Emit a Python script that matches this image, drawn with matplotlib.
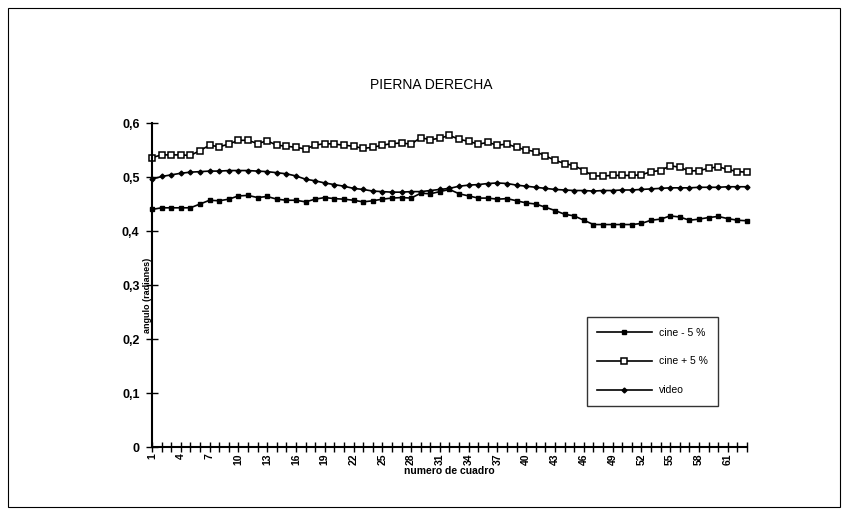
import matplotlib
matplotlib.use('Agg')
import matplotlib.pyplot as plt
from matplotlib.patches import Rectangle
import numpy as np

plt.rcParams['font.family'] = ['Liberation Sans', 'DejaVu Sans']

# angulo por cuadro, pierna derecha
cuadros = np.arange(1, 64)

cine_menos = [0.440, 0.443, 0.443, 0.443, 0.443, 0.450, 0.457, 0.456, 0.459, 0.465,
              0.466, 0.462, 0.464, 0.459, 0.457, 0.457, 0.454, 0.459, 0.462, 0.460,
              0.459, 0.457, 0.454, 0.456, 0.459, 0.461, 0.462, 0.461, 0.470, 0.469,
              0.473, 0.477, 0.469, 0.465, 0.461, 0.461, 0.459, 0.460, 0.456, 0.452,
              0.450, 0.444, 0.438, 0.431, 0.428, 0.420, 0.412, 0.412, 0.412, 0.412,
              0.412, 0.414, 0.420, 0.422, 0.428, 0.426, 0.420, 0.422, 0.425, 0.427,
              0.423, 0.420, 0.419]

cine_mas = [0.536, 0.541, 0.541, 0.541, 0.540, 0.549, 0.559, 0.556, 0.561, 0.568,
            0.568, 0.562, 0.567, 0.559, 0.557, 0.555, 0.552, 0.559, 0.562, 0.561,
            0.559, 0.557, 0.553, 0.555, 0.559, 0.562, 0.563, 0.561, 0.573, 0.569,
            0.572, 0.577, 0.570, 0.566, 0.561, 0.564, 0.559, 0.561, 0.555, 0.550,
            0.547, 0.539, 0.531, 0.525, 0.521, 0.512, 0.502, 0.502, 0.503, 0.503,
            0.503, 0.504, 0.510, 0.512, 0.521, 0.518, 0.511, 0.512, 0.516, 0.519,
            0.514, 0.510, 0.509]

video = [0.496, 0.501, 0.504, 0.507, 0.509, 0.510, 0.511, 0.511, 0.512, 0.512,
         0.512, 0.511, 0.510, 0.508, 0.506, 0.502, 0.496, 0.493, 0.489, 0.486,
         0.483, 0.479, 0.477, 0.474, 0.473, 0.472, 0.472, 0.473, 0.473, 0.475,
         0.477, 0.479, 0.483, 0.485, 0.486, 0.488, 0.489, 0.488, 0.485, 0.483,
         0.481, 0.479, 0.477, 0.476, 0.475, 0.475, 0.474, 0.475, 0.475, 0.476,
         0.476, 0.477, 0.478, 0.479, 0.480, 0.480, 0.480, 0.481, 0.481, 0.481,
         0.482, 0.482, 0.482]

y_ticks = [0, 0.1, 0.2, 0.3, 0.4, 0.5, 0.6]
y_labels = ['0', '0,1', '0,2', '0,3', '0,4', '0,5', '0,6']

fig = plt.figure(figsize=(8.53, 5.15), dpi=100)
ax = fig.add_axes([0.1782, 0.1320, 0.6975, 0.6291])

ax.plot(cuadros, cine_menos, color='black', lw=1.2, marker='s', ms=3.5,
        mfc='black', mec='black', label='cine - 5 %', clip_on=False)
ax.plot(cuadros, cine_mas, color='black', lw=1.2, marker='s', ms=5,
        mfc='white', mec='black', mew=1.1, label='cine + 5 %', clip_on=False)
ax.plot(cuadros, video, color='black', lw=1.2, marker='D', ms=2.5,
        mfc='black', mec='black', label='video', clip_on=False)

ax.set_xlim(1, 63)
ax.set_ylim(0, 0.6)
for s in ['top', 'right']:
    ax.spines[s].set_visible(False)
for s in ['left', 'bottom']:
    ax.spines[s].set_linewidth(1.5)
    ax.spines[s].set_color('black')

ax.set_xticks(cuadros)
ax.set_xticklabels([str(c) if (c - 1) % 3 == 0 else '' for c in cuadros],
                   rotation=90, fontsize=7.5, fontweight='bold')
ax.set_yticks(y_ticks)
ax.set_yticklabels(y_labels, fontsize=9, fontweight='bold')
ax.tick_params(axis='x', direction='inout', length=7, width=1, pad=1)
ax.tick_params(axis='y', direction='inout', length=8, width=1, pad=5)

ax.set_xlabel('numero de cuadro', fontsize=7.5, fontweight='bold', labelpad=1)
fig.text(147.5 / 853, 1 - 295 / 515, 'angulo (radianes)', rotation=90,
         ha='center', va='center', fontsize=6.5, fontweight='bold')

fig.text(0.505, 0.835, 'PIERNA DERECHA', ha='center', va='center', fontsize=10)

leg = ax.legend(loc='upper left', bbox_to_anchor=(0.682, 0.394),
                bbox_transform=fig.transFigure, fontsize=7.5, frameon=True,
                fancybox=False, edgecolor='black', handlelength=5.2,
                labelspacing=1.8, borderpad=1.0, handletextpad=0.7)
leg.get_frame().set_linewidth(1.0)

# borde del area del grafico
fig.patches.append(Rectangle((8 / 853, 8 / 515), 832 / 853, 499 / 515,
                             transform=fig.transFigure, fill=False,
                             edgecolor='black', lw=0.8))

fig.savefig('out.png', dpi=100)
